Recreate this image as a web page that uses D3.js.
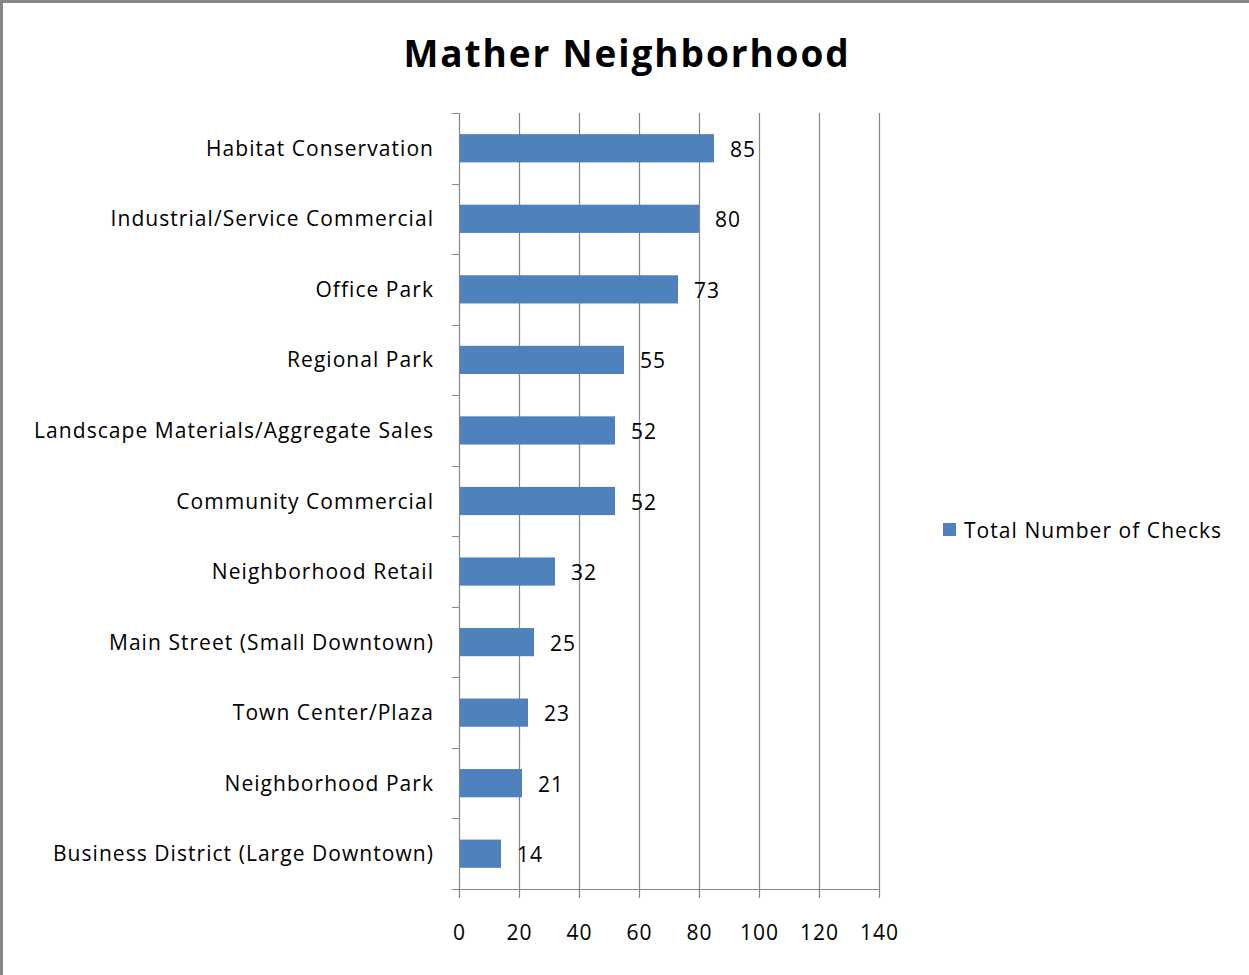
<!DOCTYPE html>
<html><head><meta charset="utf-8">
<script src="https://cdn.jsdelivr.net/npm/d3@7"></script>
<style>body{margin:0;background:#fff}svg{display:block}text{font-family:"Open Sans",sans-serif}</style>
</head><body>
<svg id="c" width="1249" height="975"></svg>
<script>
const categories = ["Habitat Conservation","Industrial/Service Commercial","Office Park","Regional Park","Landscape Materials/Aggregate Sales","Community Commercial","Neighborhood Retail","Main Street (Small Downtown)","Town Center/Plaza","Neighborhood Park","Business District (Large Downtown)"];
const values = [85,80,73,55,52,52,32,25,23,21,14];
const xTicks = [0,20,40,60,80,100,120,140];
const seriesName = "Total Number of Checks";
const title = "Mather Neighborhood";

const svg = d3.select("#c");
svg.append("rect").attr("x",1.5).attr("y",1.5).attr("width",1300).attr("height",1100)
  .attr("fill","#fff").attr("stroke","#868686").attr("stroke-width",3);

const L=459, R=879, T=113, B=889;
const FS=21, LS="1.05px";
const x = d3.scaleLinear().domain([0,140]).range([L,R]);
const y = d3.scaleBand().domain(categories).range([T,B]).paddingInner(0.6).paddingOuter(0.3);
const yb = d3.scaleBand().domain(categories).range([T,B]);

// gridlines
svg.append("g").selectAll("line").data(xTicks).join("line")
  .attr("x1",d=>Math.round(x(d))+0.5).attr("x2",d=>Math.round(x(d))+0.5)
  .attr("y1",T).attr("y2",B+9).attr("stroke","#868686").attr("stroke-width",1.2);
// bottom axis line
svg.append("line").attr("x1",L-7).attr("x2",R).attr("y1",B+0.5).attr("y2",B+0.5).attr("stroke","#868686");
// left axis line + ticks
svg.append("line").attr("x1",L+0.5).attr("x2",L+0.5).attr("y1",T).attr("y2",B).attr("stroke","#868686");
svg.append("g").selectAll("line").data(categories).join("line")
  .attr("x1",L-7).attr("x2",L).attr("y1",d=>Math.round(yb(d))+0.5).attr("y2",d=>Math.round(yb(d))+0.5)
  .attr("stroke","#868686");

// bars
svg.append("g").selectAll("rect").data(values).join("rect")
  .attr("x",L+1).attr("y",(d,i)=>y(categories[i]))
  .attr("width",d=>x(d)-L-1).attr("height",y.bandwidth()).attr("fill","#4F81BD");

// value labels
svg.append("g").selectAll("text").data(values).join("text")
  .attr("x",d=>x(d)+16).attr("y",(d,i)=>y(categories[i])+y.bandwidth()/2+1)
  .attr("dy","0.36em").attr("font-size",FS).attr("letter-spacing",LS).attr("fill","#000").text(d=>d);

// category labels
svg.append("g").selectAll("text").data(categories).join("text")
  .attr("x",434).attr("y",d=>yb(d)+yb.bandwidth()/2).attr("dy","0.36em")
  .attr("text-anchor","end").attr("font-size",FS).attr("letter-spacing",LS).attr("fill","#000").text(d=>d);

// x tick labels
svg.append("g").selectAll("text").data(xTicks).join("text")
  .attr("x",d=>x(d)+0.5).attr("y",932).attr("dy","0.36em").attr("text-anchor","middle")
  .attr("font-size",FS).attr("letter-spacing",LS).attr("fill","#000").text(d=>d);

// title
svg.append("text").attr("x",627).attr("y",67).attr("text-anchor","middle")
  .attr("font-size",37).attr("font-weight","bold").attr("letter-spacing","1.9px").attr("fill","#000").text(title);

// legend
svg.append("rect").attr("x",943).attr("y",523).attr("width",13).attr("height",13).attr("fill","#4F81BD");
svg.append("text").attr("x",964).attr("y",530).attr("dy","0.36em").attr("font-size",FS).attr("letter-spacing",LS).attr("fill","#000").text(seriesName);
</script>
</body></html>
